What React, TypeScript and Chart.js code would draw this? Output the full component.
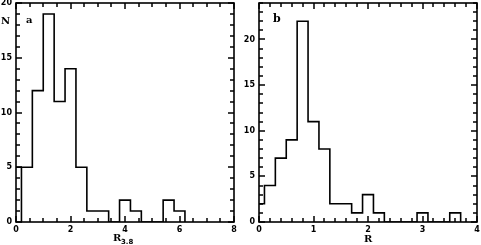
import React, { useEffect, useRef } from "react";
import { Chart, registerables } from "chart.js";
Chart.register(...registerables);

// Panel a: histogram of R_3.8 (bin width 0.4, first bin starts at -0.2)
const aBinStarts = [-0.2, 0.2, 0.6, 1.0, 1.4, 1.8, 2.2, 2.6, 3.0, 3.4, 3.8, 4.2, 4.6, 5.0, 5.4, 5.8];
const aCounts = [5, 5, 12, 19, 11, 14, 5, 1, 1, 0, 2, 1, 0, 0, 2, 1];
const aBinWidth = 0.4;
const aEdgeLine = [0.2]; // vertical edge drawn down to zero
const aXTicks = [0, 2, 4, 6, 8];
const aYTicks = [0, 5, 10, 15, 20];

// Panel b: histogram of R (bin width 0.2, first bin starts at -0.1)
const bBinStarts = [-0.1, 0.1, 0.3, 0.5, 0.7, 0.9, 1.1, 1.3, 1.5, 1.7, 1.9, 2.1, 2.3, 2.5, 2.7, 2.9, 3.1, 3.3, 3.5];
const bCounts = [2, 4, 7, 9, 22, 11, 8, 2, 2, 1, 3, 1, 0, 0, 0, 1, 0, 0, 1];
const bBinWidth = 0.2;
const bXTicks = [0, 1, 2, 3, 4];
const bYTicks = [0, 5, 10, 15, 20];

function stepPoints(starts: number[], counts: number[], w: number) {
  const pts: { x: number; y: number }[] = [];
  pts.push({ x: starts[0], y: 0 });
  starts.forEach((s, i) => {
    pts.push({ x: s, y: counts[i] });
    pts.push({ x: s + w, y: counts[i] });
  });
  pts.push({ x: starts[starts.length - 1] + w, y: 0 });
  return pts;
}

type PanelCfg = {
  width: number;
  yAxisWidth: number;
  rightPad: number;
  xMin: number; xMax: number; xMinor: number; xTicks: number[];
  yMin: number; yMax: number; yMinor: number; yTicks: number[];
  datasets: any[];
  texts: (ctx: CanvasRenderingContext2D, area: any) => void;
};

const TICK_FONT = { family: "'DejaVu Sans', sans-serif", size: 8, weight: "bold" as const };

function Panel({ cfg, left }: { cfg: PanelCfg; left: number }) {
  const ref = useRef<HTMLCanvasElement>(null);
  useEffect(() => {
    const frame = {
      id: "frame",
      afterDraw(chart: any) {
        const { ctx, chartArea: a, scales } = chart;
        const xs = scales.x, ys = scales.y;
        ctx.save();
        ctx.strokeStyle = "#000";
        ctx.lineWidth = 1.6;
        ctx.strokeRect(a.left, a.top, a.right - a.left, a.bottom - a.top);
        ctx.lineWidth = 1.5;
        const isMajor = (v: number, ticks: number[]) => ticks.some((t) => Math.abs(t - v) < 1e-6);
        const nx = Math.round((cfg.xMax - cfg.xMin) / cfg.xMinor);
        for (let i = 0; i <= nx; i++) {
          const v = cfg.xMin + i * cfg.xMinor;
          const px = Math.round(xs.getPixelForValue(v));
          const len = isMajor(v, cfg.xTicks) ? 6 : 4;
          ctx.beginPath();
          ctx.moveTo(px, a.bottom); ctx.lineTo(px, a.bottom - len);
          ctx.moveTo(px, a.top); ctx.lineTo(px, a.top + len);
          ctx.stroke();
        }
        const ny = Math.round((cfg.yMax - cfg.yMin) / cfg.yMinor);
        for (let i = 0; i <= ny; i++) {
          const v = cfg.yMin + i * cfg.yMinor;
          const py = Math.round(ys.getPixelForValue(v));
          const len = isMajor(v, cfg.yTicks) ? 6 : 4;
          ctx.beginPath();
          ctx.moveTo(a.left, py); ctx.lineTo(a.left + len, py);
          ctx.moveTo(a.right, py); ctx.lineTo(a.right - len, py);
          ctx.stroke();
        }
        ctx.fillStyle = "#000";
        cfg.texts(ctx, a);
        ctx.restore();
      },
    };
    const chart = new Chart(ref.current!, {
      type: "line",
      data: { datasets: cfg.datasets },
      options: {
        animation: false,
        responsive: false,
        devicePixelRatio: 1,
        layout: { padding: { top: 3, right: cfg.rightPad, left: 0, bottom: 0 } },
        plugins: { legend: { display: false }, tooltip: { enabled: false } },
        elements: { point: { radius: 0 } },
        scales: {
          x: {
            type: "linear",
            min: cfg.xMin,
            max: cfg.xMax,
            grid: { display: false, drawTicks: false },
            border: { display: false },
            afterBuildTicks: (s: any) => { s.ticks = cfg.xTicks.map((v) => ({ value: v })); },
            ticks: { font: TICK_FONT, color: "#000", padding: 3, maxRotation: 0, autoSkip: false },
            afterFit: (s: any) => { s.height = 23; s.paddingLeft = 0; s.paddingRight = 0; s.paddingTop = 0; s.paddingBottom = 0; },
          },
          y: {
            type: "linear",
            min: cfg.yMin,
            max: cfg.yMax,
            grid: { display: false, drawTicks: false },
            border: { display: false },
            afterBuildTicks: (s: any) => { s.ticks = cfg.yTicks.map((v) => ({ value: v })); },
            ticks: { font: TICK_FONT, color: "#000", padding: 4, autoSkip: false },
            afterFit: (s: any) => { s.width = cfg.yAxisWidth; s.paddingLeft = 0; s.paddingRight = 0; s.paddingTop = 0; s.paddingBottom = 0; },
          },
        },
      },
      plugins: [frame],
    } as any);
    return () => chart.destroy();
  }, [cfg]);
  return (
    <canvas
      ref={ref}
      width={cfg.width}
      height={245}
      style={{ position: "absolute", left, top: 0, width: cfg.width, height: 245, display: "block" }}
    />
  );
}

const lineStyle = { borderColor: "#000", borderWidth: 1.6, fill: false, tension: 0, pointRadius: 0 };

const cfgA: PanelCfg = {
  width: 240,
  yAxisWidth: 16,
  rightPad: 6,
  xMin: 0, xMax: 8, xMinor: 0.5, xTicks: aXTicks,
  yMin: 0, yMax: 20, yMinor: 1, yTicks: aYTicks,
  datasets: [
    { ...lineStyle, data: stepPoints(aBinStarts, aCounts, aBinWidth) },
    ...aEdgeLine.map((e) => ({
      ...lineStyle,
      data: [{ x: e, y: 0 }, { x: e, y: aCounts[aBinStarts.findIndex((s) => Math.abs(s - e) < 1e-6)] }],
    })),
  ],
  texts: (ctx, a) => {
    ctx.font = "bold 10px 'DejaVu Serif', serif";
    ctx.textBaseline = "alphabetic";
    ctx.textAlign = "left";
    ctx.fillText("N", 1, 24);
    ctx.fillText("a", a.left + 10, a.top + 20);
    ctx.fillText("R", 113, 241);
    ctx.font = "bold 7px 'DejaVu Sans', sans-serif";
    ctx.fillText("3.8", 121, 244);
  },
};

const cfgB: PanelCfg = {
  width: 241,
  yAxisWidth: 19,
  rightPad: 4,
  xMin: 0, xMax: 4, xMinor: 0.2, xTicks: bXTicks,
  yMin: 0, yMax: 24, yMinor: 1, yTicks: bYTicks,
  datasets: [{ ...lineStyle, data: stepPoints(bBinStarts, bCounts, bBinWidth) }],
  texts: (ctx, a) => {
    ctx.font = "bold 11px 'DejaVu Serif', serif";
    ctx.textBaseline = "alphabetic";
    ctx.textAlign = "left";
    ctx.fillText("b", a.left + 14, a.top + 19);
    ctx.font = "bold 10px 'DejaVu Serif', serif";
    ctx.fillText("R", 124, 242);
  },
};

export default function App() {
  return (
    <div style={{ position: "absolute", left: 0, top: 0, width: 481, height: 245, background: "#fff" }}>
      <Panel cfg={cfgA} left={0} />
      <Panel cfg={cfgB} left={240} />
    </div>
  );
}
